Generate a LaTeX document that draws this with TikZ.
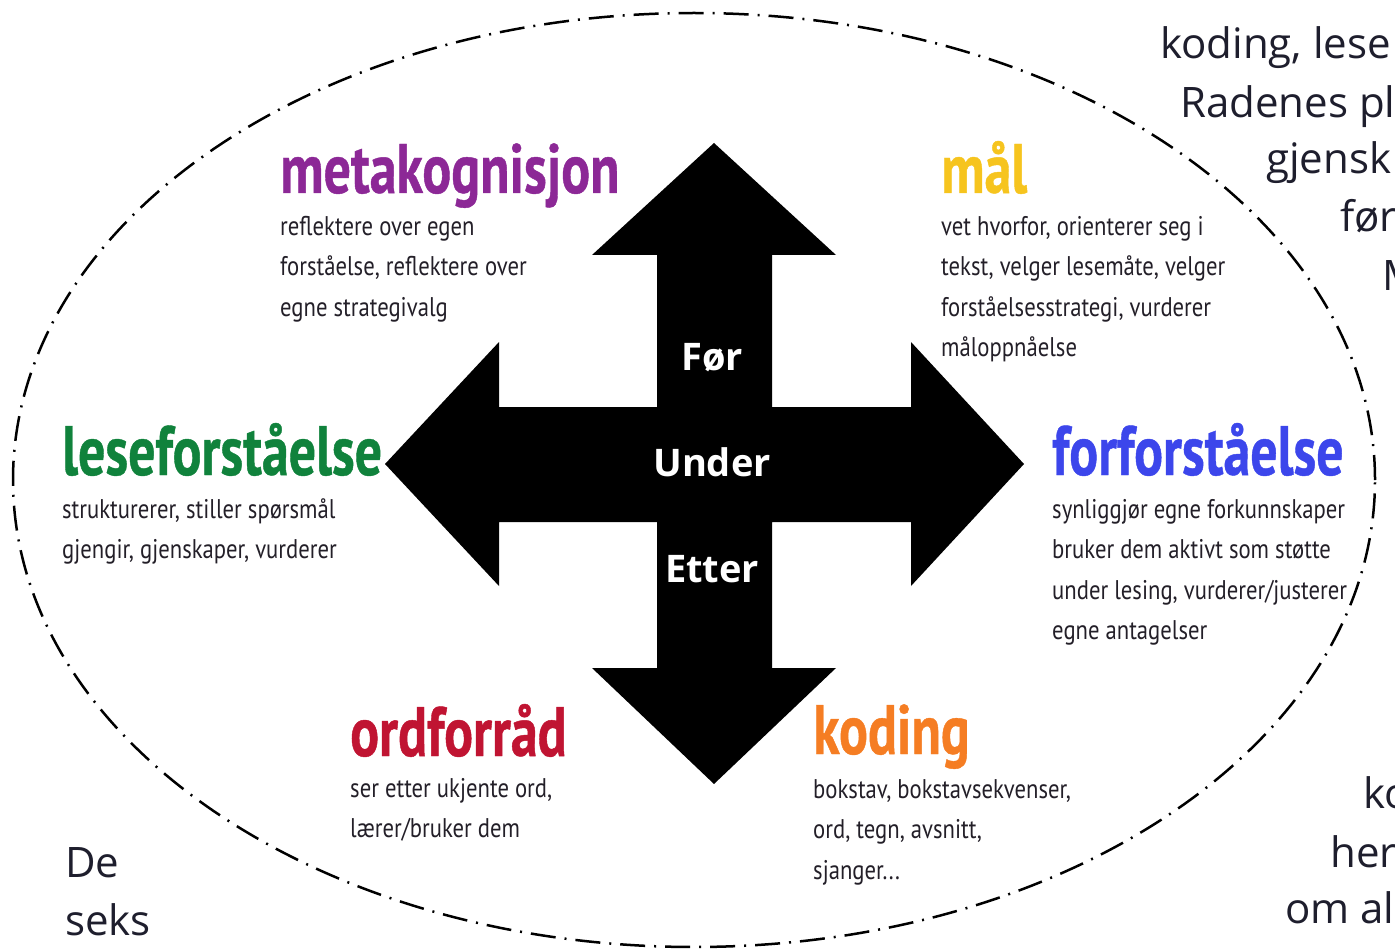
\documentclass[tikz,border=0pt]{standalone}
\usepackage{fontspec}
\newfontfamily\headfont{PT Sans}[FakeStretch=0.77,FakeBold=0.6]
\newfontfamily\bodyfont{PT Sans}[FakeStretch=0.84]
\newfontfamily\sidefont{Open Sans}
\definecolor{ink}{RGB}{35,31,40}
\definecolor{side}{RGB}{30,30,45}
\definecolor{metac}{RGB}{140,40,150}
\definecolor{malc}{RGB}{246,196,30}
\definecolor{lesec}{RGB}{16,130,60}
\definecolor{forc}{RGB}{60,70,235}
\definecolor{ordc}{RGB}{192,20,50}
\definecolor{kodc}{RGB}{245,125,35}

\begin{document}
\begin{tikzpicture}[x=1pt,y=-1pt,
    headtxt/.style={anchor=base west,inner sep=0pt,font=\headfont\bfseries\fontsize{70}{70}\selectfont},
    bodytxt/.style={anchor=north west,inner sep=0pt,align=left,text=ink,font=\bodyfont\fontsize{27}{40.5}\selectfont},
    midtxt/.style={anchor=base,inner sep=0pt,text=white,font=\sidefont\bfseries\fontsize{38}{38}\selectfont},
    sidetxt/.style={anchor=base west,inner sep=0pt,text=side,font=\sidefont\fontsize{42}{42}\selectfont}]
            \useasboundingbox (0,0) rectangle (1395,952);
            \clip (0,0) rectangle (1395,952);
            % ring
            \draw[line width=2.5pt,dash pattern=on 25pt off 9pt on 2pt off 9pt] (694,480) ellipse [x radius=681pt,y radius=467pt];
            % cross of arrows
            \fill[black] (714,143) -- (836,255) -- (772,255) -- (772,407) -- (911,407) -- (911,342) -- (1024,464)
                -- (911,586) -- (911,522) -- (772,522) -- (772,668) -- (836,668) -- (714,784) -- (592,668)
                -- (657,668) -- (657,522) -- (499,522) -- (499,586) -- (385,464) -- (499,342) -- (499,407)
                -- (657,407) -- (657,255) -- (592,255) -- cycle;
            \node[midtxt](for) at (712, 370) {Før};
            \node[midtxt](under) at (712, 476) {Under};
            \node[midtxt](etter) at (712, 582) {Etter};
            % six areas
            \node[headtxt,text=metac](meta) at (280, 193) {metakognisjon};
            \node[bodytxt](metatxt) at (280, 216) {reflektere over egen\\forståelse, reflektere over\\egne strategivalg};
            \node[headtxt,text=malc](mal) at (941, 193) {mål};
            \node[bodytxt](maltxt) at (941, 216) {vet hvorfor, orienterer seg i\\tekst, velger lesemåte, velger\\forståelsesstrategi, vurderer\\måloppnåelse};
            \node[headtxt,text=lesec](lese) at (62, 475) {leseforståelse};
            \node[bodytxt](lesetxt) at (62, 498) {strukturerer, stiller spørsmål\\gjengir, gjenskaper, vurderer};
            \node[headtxt,text=forc](forf) at (1052, 475) {forforståelse};
            \node[bodytxt](forftxt) at (1052, 499) {synliggjør egne forkunnskaper\\bruker dem aktivt som støtte\\under lesing, vurderer/justerer\\egne antagelser};
            \node[headtxt,text=ordc](ord) at (350, 756) {ordforråd};
            \node[bodytxt](ordtxt) at (350, 778) {ser etter ukjente ord,\\lærer/bruker dem};
            \node[headtxt,text=kodc](kod) at (813, 754) {koding};
            \node[bodytxt](kodtxt) at (813, 779) {bokstav, bokstavsekvenser,\\ord, tegn, avsnitt,\\sjanger...};
            % text outside the ring
            \node[sidetxt](s1) at (1160, 59) {koding, lese};
            \node[sidetxt](s2) at (1180, 118) {Radenes pl};
            \node[sidetxt](s3) at (1266, 174) {gjensk};
            \node[sidetxt](s4) at (1340, 232) {før};
            \node[sidetxt](s5) at (1382, 290) {M};
            \node[sidetxt](s6) at (1363, 808) {ko};
            \node[sidetxt](s7) at (1330, 867) {her};
            \node[sidetxt](s8) at (1285, 923) {om al};
            \node[sidetxt](de) at (65, 877) {De};
            \node[sidetxt](seks) at (65, 935) {seks};
        \end{tikzpicture}
\end{document}
